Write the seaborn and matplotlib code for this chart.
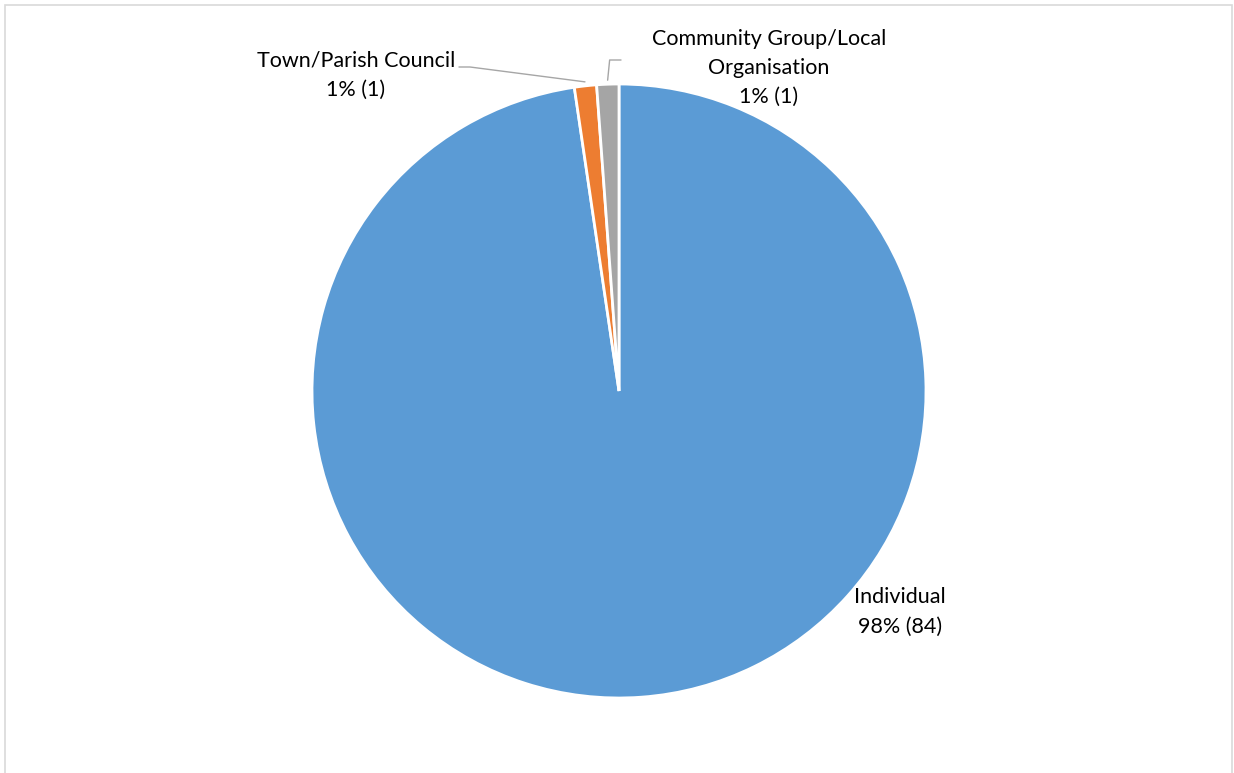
import numpy as np
import matplotlib
matplotlib.use("Agg")
import matplotlib.pyplot as plt
import seaborn as sns
from matplotlib.patches import Rectangle

categories = ["Individual", "Town/Parish Council", "Community Group/Local\nOrganisation"]
counts = [84, 1, 1]
colors = ["#5B9BD5", "#ED7D31", "#A5A5A5"]

sns.set_theme(style="white")
plt.rcParams["font.family"] = ["Lato", "DejaVu Sans"]

W, H = 1234, 773
fig = plt.figure(figsize=(W / 100, H / 100), dpi=100)
ax = fig.add_axes([0, 0, 1, 1])

cx, cy, r = 619, H - 391, 307
wedges, _ = ax.pie(counts, colors=colors, startangle=90, counterclock=False,
                   center=(cx, cy), radius=r, frame=True,
                   wedgeprops=dict(edgecolor="white", linewidth=2.0))
ax.set_xlim(0, W)
ax.set_ylim(0, H)
ax.set_aspect("equal")
ax.axis("off")

total = sum(counts)
def lab(i):
    return f"{categories[i]}\n{round(100 * counts[i] / total)}% ({counts[i]})"

def edge_pt(w, rr):
    a = np.deg2rad((w.theta1 + w.theta2) / 2)
    return cx + rr * np.cos(a), cy + rr * np.sin(a)

fs = 15.5
txt_kw = dict(ha="center", va="center", fontsize=fs, color="#000000", linespacing=1.58)

# Individual
ax.text(900, H - 612, lab(0), **txt_kw)
# Town/Parish Council
ax.text(356, H - 75, lab(1), **txt_kw)
px, py = edge_pt(wedges[1], r + 4)
ax.plot([459, 470, px], [H - 67, H - 67, py], color="#A6A6A6", lw=1.0)
# Community group
ax.text(769, H - 68, lab(2), **txt_kw)
px, py = edge_pt(wedges[2], r + 4)
ax.plot([px, px + 2, 621], [py, H - 60, H - 60], color="#A6A6A6", lw=1.0)

# chart border
fig.patches.append(Rectangle((4.5 / W, -0.05), (1232 - 4.5) / W, 1.05 - 4.5 / H,
                             transform=fig.transFigure, fill=False,
                             edgecolor="#D9D9D9", lw=1.2))

fig.savefig("out.png", dpi=100, facecolor="white")
